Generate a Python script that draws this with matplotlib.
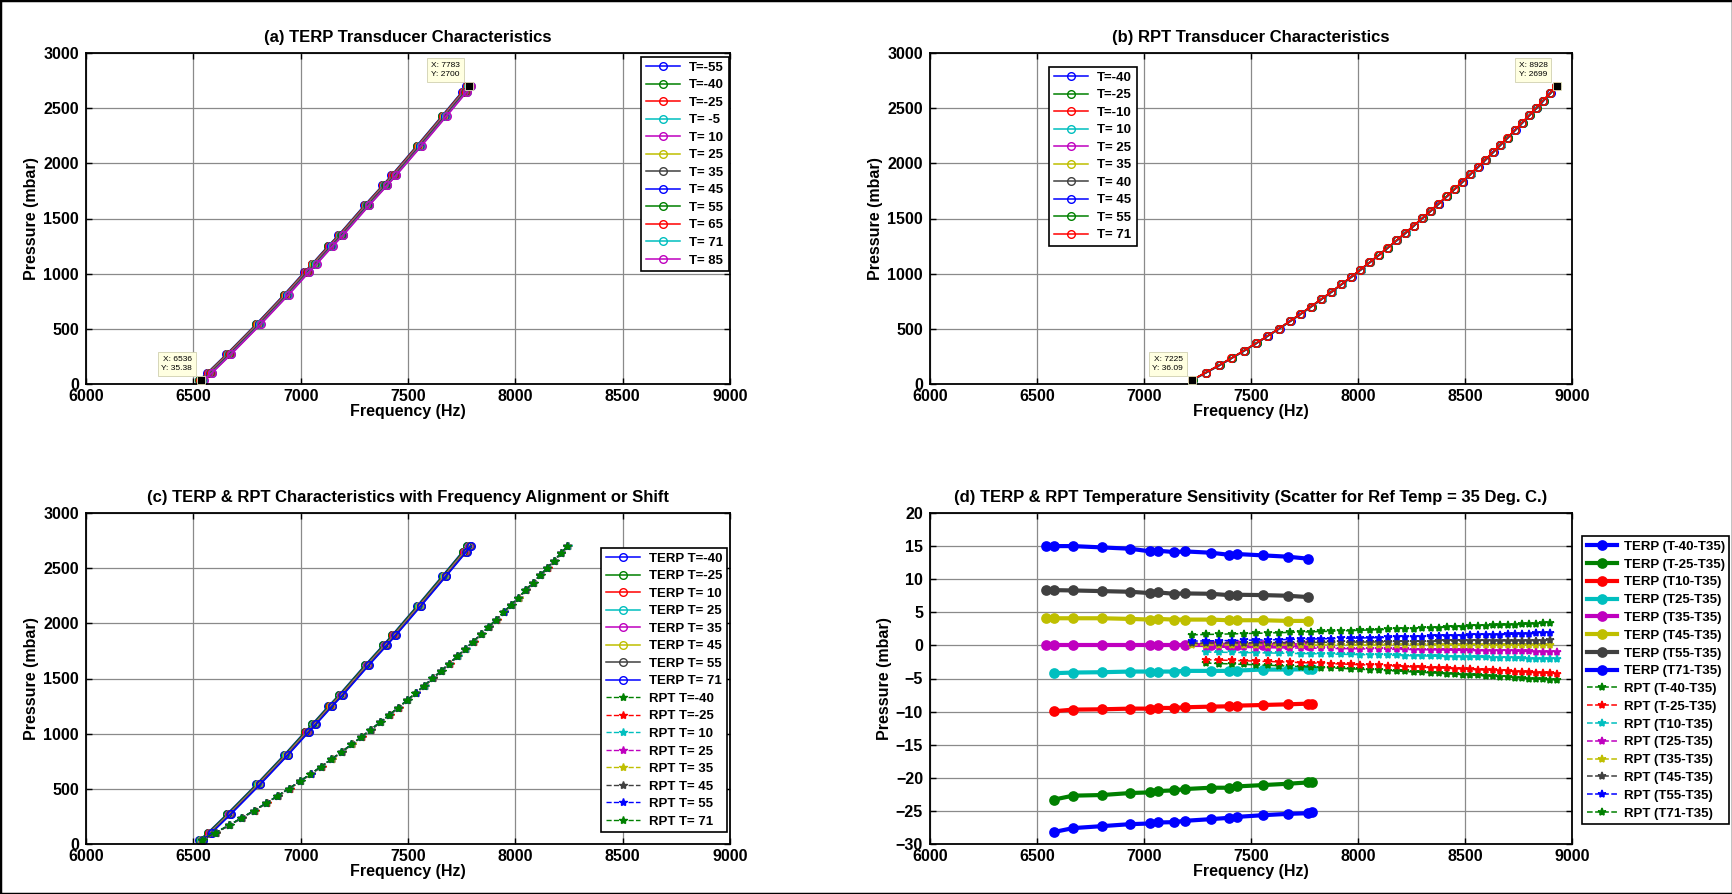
import matplotlib
matplotlib.use('Agg')
import matplotlib.pyplot as plt
from matplotlib.patches import Rectangle

plt.rcParams['font.family'] = ['Liberation Sans', 'DejaVu Sans']
plt.rcParams['font.weight'] = 'bold'

# MATLAB-like colours
MB = (0, 0, 1); MG = (0, 0.5, 0); MR = (1, 0, 0); MC = (0, 0.75, 0.75)
MM = (0.75, 0, 0.75); MY = (0.75, 0.75, 0); MK = (0.25, 0.25, 0.25)

# ---------------- data ----------------
terp_pressure = [35, 100, 270, 540, 810, 1013, 1085, 1250, 1350, 1620, 1800, 1890, 2160, 2430, 2650, 2700]
terp_freq = [6540, 6578, 6668, 6805, 6936, 7030, 7065, 7141, 7190, 7311, 7395, 7436, 7555, 7672, 7766, 7786]

terp_temps_a = [-55, -40, -25, -5, 10, 25, 35, 45, 55, 65, 71, 85]
terp_offset_a = [-14, -12, -10, -6, -4, -2, 0, 2, 4, 5, 7, 9]
colors_a = [MB, MG, MR, MC, MM, MY, MK, MB, MG, MR, MC, MM]

rpt_pressure = [36, 103, 169, 236, 302, 369, 436, 502, 569, 635, 702, 769, 835, 902, 968, 1035,
                1102, 1168, 1235, 1301, 1368, 1435, 1501, 1568, 1634, 1701, 1768, 1834, 1901, 1967,
                2034, 2101, 2167, 2234, 2300, 2367, 2434, 2500, 2567, 2633, 2699]
rpt_freq = [7225, 7289, 7351, 7410, 7468, 7524, 7578, 7631, 7682, 7732, 7781, 7829, 7876, 7922, 7967,
            8011, 8054, 8097, 8139, 8180, 8221, 8261, 8300, 8339, 8377, 8415, 8452, 8489, 8525, 8561,
            8596, 8631, 8665, 8700, 8733, 8767, 8800, 8833, 8865, 8897, 8928]

rpt_temps_b = [-40, -25, -10, 10, 25, 35, 40, 45, 55, 71]
rpt_offset_b = [3, 2, 1, 1, 0, 0, 0, -0.5, -1, -1.5]
colors_b = [MB, MG, MR, MC, MM, MY, MK, MB, MG, MR]

temps_c = [-40, -25, 10, 25, 35, 45, 55, 71]
terp_offset_c = [-12, -10, -4, -2, 0, 2, 4, 7]
rpt_offset_c = [3, 2, 1, 0, 0, -0.5, -1, -1.5]
rpt_shift_hz = 685
colors_terp_c = [MB, MG, MR, MC, MM, MY, MK, MB]
colors_rpt_c = [MG, MR, MC, MM, MY, MK, MB, MG]

# (d) TERP temperature sensitivity (mbar) relative to T35
terp_dev = {
    -40: [-28.2, -27.6, -27.3, -27.0, -26.9, -26.75, -26.7, -26.5, -26.25, -26.05, -25.9, -25.65, -25.45, -25.35, -25.2],
    -25: [-23.3, -22.7, -22.6, -22.3, -22.2, -22.0, -21.9, -21.7, -21.5, -21.5, -21.3, -21.1, -20.9, -20.7, -20.6],
    10: [-9.95, -9.7, -9.65, -9.55, -9.55, -9.45, -9.45, -9.35, -9.25, -9.2, -9.1, -9.0, -8.9, -8.8, -8.8],
    25: [-4.2, -4.1, -4.05, -3.95, -3.95, -3.95, -3.95, -3.85, -3.85, -3.85, -3.8, -3.65, -3.65, -3.6, -3.6],
    35: [0, 0, 0, 0, 0, 0, 0, 0, 0, 0, 0, 0, 0, 0, 0],
    45: [4.2, 4.1, 4.1, 4.1, 4.0, 3.9, 4.0, 3.9, 3.9, 3.9, 3.8, 3.8, 3.8, 3.7, 3.7],
    55: [8.4, 8.35, 8.3, 8.2, 8.1, 7.9, 8.0, 7.8, 7.85, 7.8, 7.6, 7.65, 7.6, 7.5, 7.3],
    71: [15.05, 15.0, 15.0, 14.8, 14.6, 14.2, 14.3, 14.1, 14.2, 14.0, 13.7, 13.8, 13.6, 13.4, 13.1],
}
hot_temps = [35, 45, 55, 71]   # plotted against the first points; colder ones start one point later

# (d) RPT temperature sensitivity (mbar) relative to T35
rpt_dev = {
    -40: [-2.67, -2.74, -2.80, -2.87, -2.94, -3.00, -3.07, -3.14, -3.21, -3.27, -3.34, -3.41, -3.47, -3.54,
          -3.61, -3.67, -3.74, -3.81, -3.87, -3.94, -4.01, -4.07, -4.14, -4.21, -4.28, -4.34, -4.41, -4.48,
          -4.54, -4.61, -4.68, -4.74, -4.81, -4.88, -4.94, -5.01, -5.08, -5.14, -5.21, -5.28],
    -25: [-2.16, -2.21, -2.27, -2.32, -2.38, -2.43, -2.48, -2.54, -2.59, -2.65, -2.70, -2.76, -2.81, -2.86,
          -2.92, -2.97, -3.03, -3.08, -3.13, -3.19, -3.24, -3.30, -3.35, -3.40, -3.46, -3.51, -3.57, -3.62,
          -3.67, -3.73, -3.78, -3.84, -3.89, -3.95, -4.00, -4.05, -4.11, -4.16, -4.22, -4.27],
    10: [-1.00, -1.03, -1.06, -1.08, -1.11, -1.14, -1.17, -1.20, -1.23, -1.25, -1.28, -1.31, -1.34, -1.37,
         -1.39, -1.42, -1.45, -1.48, -1.51, -1.54, -1.56, -1.59, -1.62, -1.65, -1.68, -1.71, -1.73, -1.76,
         -1.79, -1.82, -1.85, -1.87, -1.90, -1.93, -1.96, -1.99, -2.02, -2.04, -2.07, -2.10],
    25: [-0.25, -0.27, -0.29, -0.31, -0.33, -0.35, -0.37, -0.38, -0.40, -0.42, -0.44, -0.46, -0.48, -0.50,
         -0.52, -0.54, -0.56, -0.58, -0.60, -0.61, -0.63, -0.65, -0.67, -0.69, -0.71, -0.73, -0.75, -0.77,
         -0.79, -0.81, -0.83, -0.85, -0.87, -0.88, -0.90, -0.92, -0.94, -0.96, -0.98, -1.00],
    35: [0.0] * 40,
    45: [0.35, 0.36, 0.37, 0.38, 0.39, 0.40, 0.41, 0.42, 0.43, 0.44, 0.45, 0.46, 0.47, 0.48, 0.49, 0.50,
         0.51, 0.52, 0.53, 0.54, 0.55, 0.56, 0.57, 0.58, 0.60, 0.61, 0.62, 0.63, 0.64, 0.65, 0.66, 0.67,
         0.68, 0.69, 0.70, 0.71, 0.72, 0.73, 0.74, 0.75],
    55: [0.65, 0.68, 0.71, 0.74, 0.77, 0.81, 0.84, 0.87, 0.90, 0.93, 0.96, 0.99, 1.02, 1.05, 1.08, 1.12,
         1.15, 1.18, 1.21, 1.24, 1.27, 1.30, 1.33, 1.36, 1.39, 1.43, 1.46, 1.49, 1.52, 1.55, 1.58, 1.61,
         1.64, 1.67, 1.70, 1.74, 1.77, 1.80, 1.83, 1.86],
    71: [1.60, 1.65, 1.69, 1.74, 1.78, 1.83, 1.87, 1.92, 1.96, 2.01, 2.05, 2.10, 2.14, 2.19, 2.24, 2.28,
         2.33, 2.37, 2.42, 2.46, 2.51, 2.55, 2.60, 2.64, 2.69, 2.73, 2.78, 2.83, 2.87, 2.92, 2.96, 3.01,
         3.05, 3.10, 3.14, 3.19, 3.23, 3.28, 3.32, 3.37],
}

# ---------------- figure ----------------
W, H = 1733, 894
fig = plt.figure(figsize=(W / 100, H / 100), dpi=100)


def box(l, t, r, b):
    return [l / W, 1 - b / H, (r - l) / W, (b - t) / H]


axA = fig.add_axes(box(86, 53, 730, 384))
axB = fig.add_axes(box(930, 53, 1572, 384))
axC = fig.add_axes(box(86, 513, 730, 844))
axD = fig.add_axes(box(930, 513, 1572, 844))


def style(ax, ylim, yticks, title):
    ax.set_xlim(6000, 9000)
    ax.set_xticks(range(6000, 9001, 500))
    ax.set_ylim(*ylim)
    ax.set_yticks(yticks)
    ax.grid(True, color='#8a8a8a', lw=0.9, ls='-')
    ax.set_axisbelow(True)
    ax.tick_params(direction='in', top=True, right=True, labelsize=11.5, length=4, width=1)
    ax.tick_params(axis='x', pad=3.5)
    ax.tick_params(axis='y', pad=5)
    for lab in ax.get_xticklabels() + ax.get_yticklabels():
        lab.set_fontweight('bold')
    for s in ax.spines.values():
        s.set_linewidth(1.3)
    ax.set_xlabel('Frequency (Hz)', fontsize=11.5, fontweight='bold', labelpad=0)
    ax.set_ylabel('Pressure (mbar)', fontsize=11.5, fontweight='bold', labelpad=3)
    ax.set_title(title, fontsize=12, fontweight='bold', pad=8)


def datatip(ax, x, y, txt):
    ax.plot([x], [y], marker='s', color='k', mec='#e8e8c0', mew=0.6, ms=6, zorder=10, clip_on=False)
    ax.annotate(txt, xy=(x, y), xytext=(-9, 8), textcoords='offset pixels', ha='right', va='bottom',
                fontsize=6, fontweight='normal', linespacing=1.5, zorder=11,
                bbox=dict(boxstyle='square,pad=0.45', fc='#FFFFE1', ec='#d0d0b0', lw=0.6))


def legend(ax, x, y, size=9.5, ls=0.4, hl=2.6, tp=0.7):
    lg = ax.legend(loc='upper left', bbox_to_anchor=(x / W, 1 - y / H), bbox_transform=fig.transFigure,
                   prop=dict(weight='bold', size=size), frameon=True, fancybox=False,
                   edgecolor='k', framealpha=1, borderpad=0.35, labelspacing=ls,
                   handlelength=hl, handletextpad=tp, borderaxespad=0)
    lg.get_frame().set_linewidth(1.2)
    return lg


# (a)
for t, off, c in zip(terp_temps_a, terp_offset_a, colors_a):
    axA.plot([f + off for f in terp_freq], terp_pressure, '-o', color=c, lw=1.1, ms=5.5,
             mfc='none', mew=1.0, label='T=%3d' % t)
style(axA, (0, 3000), range(0, 3001, 500), '(a) TERP Transducer Characteristics')
legend(axA, 641, 57)
datatip(axA, 7783, 2700, 'X: 7783\nY: 2700')
datatip(axA, 6536, 35.38, 'X: 6536\nY: 35.38')

# (b)
for t, off, c in zip(rpt_temps_b, rpt_offset_b, colors_b):
    axB.plot([f + off for f in rpt_freq], rpt_pressure, '-o', color=c, lw=1.1, ms=5.5,
             mfc='none', mew=1.0, label='T=%3d' % t)
style(axB, (0, 3000), range(0, 3001, 500), '(b) RPT Transducer Characteristics')
legend(axB, 1049, 67)
datatip(axB, 8928, 2699, 'X: 8928\nY: 2699')
datatip(axB, 7225, 36.09, 'X: 7225\nY: 36.09')

# (c)
for t, off, c in zip(temps_c, terp_offset_c, colors_terp_c):
    axC.plot([f + off for f in terp_freq], terp_pressure, '-o', color=c, lw=1.1, ms=5.5,
             mfc='none', mew=1.0, label='TERP T=%3d' % t)
for t, off, c in zip(temps_c, rpt_offset_c, colors_rpt_c):
    axC.plot([f + off - rpt_shift_hz for f in rpt_freq], rpt_pressure, '--*', color=c, lw=1.0, ms=6,
             mew=1.0, label='RPT T=%3d' % t)
style(axC, (0, 3000), range(0, 3001, 500), '(c) TERP & RPT Characteristics with Frequency Alignment or Shift')
legend(axC, 601, 548)

# (d)
terp_d_colors = {-40: MB, -25: MG, 10: MR, 25: MC, 35: MM, 45: MY, 55: MK, 71: MB}
for t in temps_c:
    xs = terp_freq[:15] if t in hot_temps else terp_freq[1:]
    axD.plot(xs, terp_dev[t], '-o', color=terp_d_colors[t], lw=3, ms=6.5, mew=1.2,
             label='TERP (T%d-T35)' % t)
rpt_d_colors = {-40: MG, -25: MR, 10: MC, 25: MM, 35: MY, 45: MK, 55: MB, 71: MG}
for t in temps_c:
    xs = rpt_freq[:40] if t in hot_temps else rpt_freq[1:]
    axD.plot(xs, rpt_dev[t], '--*', color=rpt_d_colors[t], lw=1.1, ms=6, mew=1.1,
             label='RPT (T%d-T35)' % t)
style(axD, (-30, 20), range(-30, 21, 5), '(d) TERP & RPT Temperature Sensitivity (Scatter for Ref Temp = 35 Deg. C.)')
legend(axD, 1582, 536, size=9.5, ls=0.42, hl=2.3, tp=0.5)

fig.add_artist(Rectangle((0, 0), 1, 1, transform=fig.transFigure, fill=False, ec='k', lw=2.5))

fig.savefig('out.png', dpi=100)
